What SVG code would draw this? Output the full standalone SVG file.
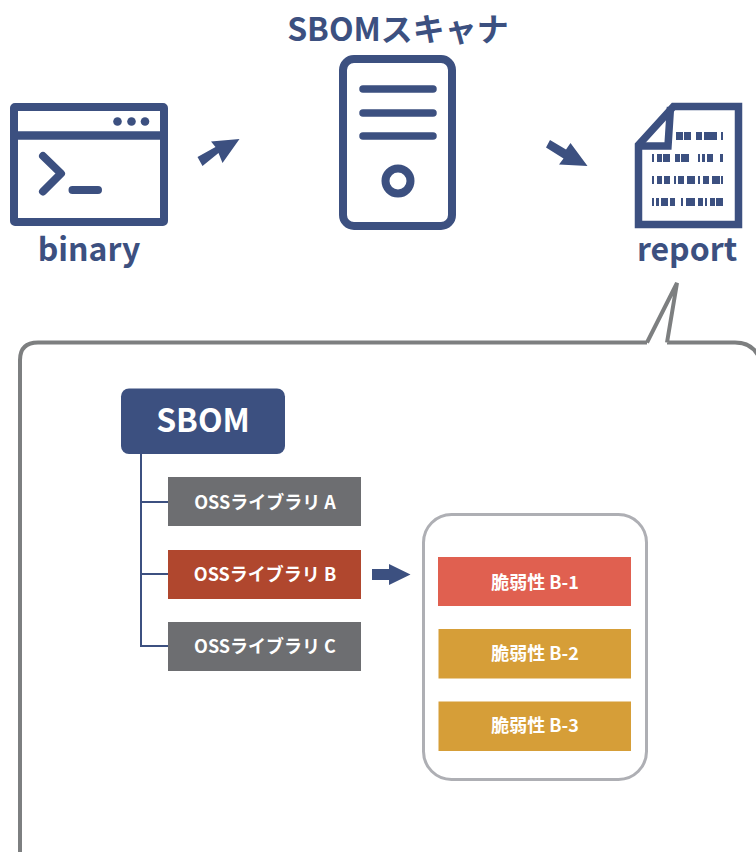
<svg xmlns="http://www.w3.org/2000/svg" width="756" height="852" viewBox="0 0 756 852">
<style>
text{font-family:"Noto Sans CJK JP","Noto Sans",sans-serif;font-weight:700;text-anchor:middle}
.h{fill:#3c5080;font-size:32px}
.w{fill:#fff;font-size:18px}
.ic{fill:none;stroke:#3c5080}
.f{fill:#3c5080}
.g{fill:#6d6e71}
</style>
<rect width="756" height="852" fill="#fff"/>
<g id="binary">
<rect class="ic" x="14" y="107" width="150" height="115" rx="1" stroke-width="8"/>
<path class="ic" d="M14 135.500H164" stroke-width="8.500"/>
<circle class="f" cx="117.500" cy="121.500" r="4.300"/><circle class="f" cx="131.500" cy="121.500" r="4.300"/><circle class="f" cx="145" cy="121.500" r="4.300"/>
<path class="ic" d="M43 156 61 173.500 43 191.500M72.500 190H98" stroke-width="8" stroke-linecap="round" stroke-linejoin="round"/>
<text class="h" x="89" y="261">binary</text>
</g>
<g id="scanner">
<text class="h" x="398" y="41">SBOMスキャナ</text>
<rect class="ic" x="343" y="59" width="109" height="167" rx="11" stroke-width="8"/>
<path class="ic" d="M363 89H433M363 113H433M363 136H433" stroke-width="7.500" stroke-linecap="round"/>
<circle class="ic" cx="398" cy="181" r="12.500" stroke-width="8"/>
</g>
<g id="report">
<path class="ic" d="M673.500 106.500H738.500V224.500H638.500V145Z" stroke-width="7.500"/>
<path class="ic" d="M670.500 107 668 146H637" stroke-width="7.500"/>
<path class="f" d="M676 132h7v8h-7zM684 132h7v8h-7zM696 132h6v8h-6zM704 132h13v8h-13zM721 132h2v8h-2zM652 154h2v8h-2zM657 154h5v8h-5zM663 154h7v8h-7zM675 154h5v8h-5zM681 154h8v8h-8zM698 154h2v8h-2zM702 154h3v8h-3zM707 154h6v8h-6zM720 154h3v8h-3zM652 176h2v8h-2zM657 176h5v8h-5zM664 176h6v8h-6zM674 176h2v8h-2zM678 176h6v8h-6zM687 176h8v8h-8zM698 176h2v8h-2zM703 176h6v8h-6zM712 176h8v8h-8zM721 176h2v8h-2zM652 198h2v8h-2zM656 198h3v8h-3zM661 198h7v8h-7zM670 198h5v8h-5zM681 198h2v8h-2zM686 198h9v8h-9zM698 198h5v8h-5zM705 198h2v8h-2zM710 198h5v8h-5zM716 198h7v8h-7z"/>
<text class="h" x="687" y="261">report</text>
</g>
<g id="connectors">
<path class="f" d="M197.500 157 215.500 147 211 141.500 239.500 139 222.500 163 218.500 153 202.500 166Z"/>
<path class="f" d="M550 140 566 149.500 570.500 143 587.500 166 559 164.500 563.500 158.500 546 147.500Z"/>
<path class="ic" d="M141 454V646H168M141 502H168M141 574H168" stroke-width="2"/>
<path class="f" d="M372 569H389V564L410.500 574.500 389 585V580H372Z"/>
</g>
<g id="bubble">
<path d="M647 342.500H38Q20 342.500 20 360V860M667 342.500H735Q754 342.500 760 360M647 342.500 677 283 667 342.500" fill="none" stroke="#7d7f80" stroke-width="4"/>
</g>
<g id="sbom">
<rect class="f" x="121" y="388.500" width="164" height="65.500" rx="8"/>
<text x="203" y="432" fill="#fff" font-size="32">SBOM</text>
</g>
<g id="lib-a"><rect class="g" x="168" y="477" width="193" height="49"/><text class="w" x="265" y="509">OSSライブラリ A</text></g>
<g id="lib-b"><rect x="168" y="550" width="193" height="49" fill="#b0472e"/><text class="w" x="265" y="581">OSSライブラリ B</text></g>
<g id="lib-c"><rect class="g" x="168" y="622" width="193" height="49"/><text class="w" x="265" y="653">OSSライブラリ C</text></g>
<g id="vuln-panel"><rect x="423.500" y="514.500" width="223" height="265" rx="28" fill="#fff" stroke="#aeafb4" stroke-width="3"/></g>
<g id="vuln-1"><rect x="438" y="557" width="193" height="49" fill="#e06050"/><text class="w" x="535" y="589">脆弱性 B-1</text></g>
<g id="vuln-2"><rect x="438.500" y="629" width="192.500" height="49.500" fill="#d69e38"/><text class="w" x="535" y="660">脆弱性 B-2</text></g>
<g id="vuln-3"><rect x="438.500" y="701.500" width="192.500" height="49.500" fill="#d69e38"/><text class="w" x="535" y="732">脆弱性 B-3</text></g>
</svg>
